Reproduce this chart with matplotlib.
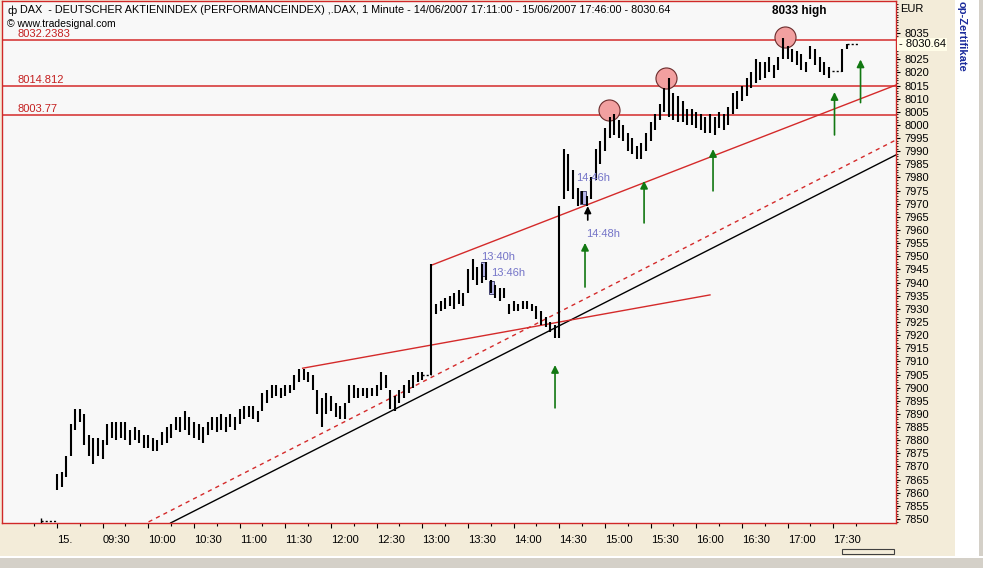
import matplotlib.pyplot as plt
from matplotlib.patches import Rectangle

plt.rcParams['font.family'] = ['Liberation Sans', 'DejaVu Sans']

W, H = 983, 568
nan = float('nan')

# DAX 1 minute chart, 15/06/2007 - bars every 3 minutes, x = minutes after 09:00
bar_low = [7861, 7862, 7866, 7874, 7884, 7887, 7878, 7874, 7871, 7874,
           7873, 7878, 7881, 7880, 7881, 7880, 7878, 7880, 7879, 7877,
           7877, 7876, 7876, 7878, 7879, 7881, 7884, 7883, 7884, 7882,
           7881, 7880, 7879, 7882, 7884, 7883, 7884, 7883, 7885, 7884,
           7886, 7888, 7889, 7888, 7887, 7891, 7894, 7896, 7897, 7896,
           7897, 7898, 7899, 7902, 7903, 7902, 7899, 7890, 7885, 7890,
           7891, 7889, 7888, 7888, 7894, 7896, 7896, 7897, 7896, 7897,
           7897, 7899, 7900, 7892, 7891, 7894, 7896, 7898, 7900, 7902,
           7903, nan, 7905, 7928, 7929, 7930, 7931, 7930, 7932, 7931,
           7936, 7941, 7939, 7940, 7941, 7936, 7934, 7933, 7934, 7928,
           7929, 7929, 7930, 7930, 7929, 7926, 7924, 7923, 7921, 7919,
           7919, 7972, 7975, 7972, 7969, 7970, 7969, 7972, 7979, 7985,
           7990, 7995, 7996, 7995, 7994, 7990, 7989, 7987, 7987, 7990,
           7994, 7998, 8002, 8005, 8003, 8002, 8001, 8001, 8000, 8000,
           7999, 7998, 7997, 7997, 7996, 7999, 7998, 8000, 8004, 8006,
           8009, 8011, 8014, 8016, 8017, 8018, 8020, 8018, 8021, 8025,
           8025, 8024, 8023, 8021, 8020, 8025, 8023, 8020, 8019, 8018,
           nan, nan, 8020, 8029, nan, nan]
bar_high = [7867, 7868, 7874, 7886, 7892, 7892, 7890, 7882, 7881, 7881,
            7880, 7886, 7887, 7887, 7887, 7887, 7884, 7885, 7884, 7882,
            7882, 7881, 7880, 7883, 7885, 7886, 7889, 7889, 7891, 7889,
            7887, 7886, 7885, 7887, 7889, 7889, 7890, 7889, 7890, 7889,
            7892, 7893, 7893, 7893, 7891, 7898, 7899, 7901, 7901, 7900,
            7901, 7901, 7905, 7907, 7907, 7906, 7905, 7899, 7896, 7898,
            7897, 7894, 7893, 7894, 7901, 7901, 7900, 7900, 7900, 7900,
            7901, 7906, 7905, 7899, 7897, 7899, 7901, 7903, 7905, 7906,
            7906, nan, 7947, 7932, 7933, 7934, 7935, 7936, 7937, 7936,
            7945, 7949, 7946, 7947, 7948, 7941, 7939, 7938, 7938, 7932,
            7933, 7932, 7933, 7933, 7932, 7931, 7929, 7927, 7925, 7924,
            7969, 7991, 7989, 7983, 7976, 7975, 7973, 7980, 7991, 7994,
            7999, 8003, 8004, 8002, 8000, 7997, 7995, 7992, 7993, 7997,
            8001, 8004, 8008, 8014, 8018, 8012, 8011, 8009, 8006, 8006,
            8005, 8004, 8003, 8004, 8003, 8005, 8004, 8007, 8012, 8013,
            8015, 8018, 8020, 8025, 8024, 8024, 8026, 8023, 8026, 8033,
            8030, 8029, 8028, 8027, 8024, 8030, 8029, 8026, 8024, 8022,
            nan, nan, 8029, 8031, nan, nan]
bar_minute = [3 * i for i in range(len(bar_low))]

# flat (no trade) stretches drawn dotted
flat_start = [-10.5, 240, 509, 519]
flat_end = [-0.5, 246, 515, 526]
flat_price = [7849.4, 7905, 8020.6, 8030.64]

levels = [8032.2383, 8014.812, 8003.77]
level_labels = ['8032.2383', '8014.812', '8003.77']

# trend lines (minute, price) end points
support_x, support_y = [74.7, 551.2], [7848.5, 7988.6]
dashed_x, dashed_y = [60.2, 551.2], [7848.9, 7994.3]
channel_x, channel_y = [246.4, 551.2], [7946.7, 8015.2]
fan_x, fan_y = [161.4, 429.0], [7907.4, 7935.3]

# marked highs
circle_x = [362.7, 400.1, 478.3]
circle_y = [8005.7, 8017.9, 8033.4]

# green signal arrows
arrow_x = [327.2, 346.9, 385.7, 431.0, 510.8, 527.9]
arrow_tip = [7908.6, 7955.1, 7978.7, 7990.8, 8012.5, 8024.9]
arrow_tail = [7892.3, 7938.3, 7962.7, 7974.9, 7996.2, 8008.5]

notes = ['14:46h', '14:48h', '13:40h', '13:46h']
note_x = [341.3, 347.6, 278.6, 285.2]
note_y = [7979.8, 7958.5, 7949.7, 7943.6]
box_x0 = [278.6, 283.9, 343.6]
box_x1 = [281.9, 287.2, 347.6]
box_y0 = [7942.5, 7935.7, 7970.0]
box_y1 = [7947.9, 7940.6, 7975.0]

time_ticks = list(range(0, 511, 30))
time_labels = ['15.', '09:30', '10:00', '10:30', '11:00', '11:30', '12:00', '12:30', '13:00',
               '13:30', '14:00', '14:30', '15:00', '15:30', '16:00', '16:30', '17:00', '17:30']
price_ticks = list(range(7850, 8030, 5)) + [8035]

fig = plt.figure(figsize=(W / 100, H / 100), dpi=100, facecolor='#f3ecd9')


def px_rect(x0, y0, x1, y1, **kw):
    fig.patches.append(Rectangle((x0 / W, 1 - y1 / H), (x1 - x0) / W, (y1 - y0) / H,
                                 transform=fig.transFigure, **kw))


px_rect(955, 0, 983, 558, facecolor='white', edgecolor='none')
px_rect(979, 0, 983, 568, facecolor='#d4d0c8', edgecolor='none')
px_rect(0, 556, 983, 568, facecolor='#d4d0c8', edgecolor='none')
px_rect(0, 556, 983, 558, facecolor='white', edgecolor='none')
px_rect(842, 549, 894, 554, facecolor='none', edgecolor='#404040', lw=0.8)

ax = fig.add_axes([2 / W, 45 / H, 894 / W, 522 / H])
ax.set_facecolor('#f8f8f8')
ax.set_xlim(-36.1, 551.2)
ax.set_ylim(7848.48, 8047.18)
for s in ax.spines.values():
    s.set_color('#d02828')
    s.set_linewidth(1)

red = '#d42a2a'
for lv, lb in zip(levels, level_labels):
    ax.axhline(lv, color=red, lw=1.1, zorder=2)
    ax.annotate(lb, (-25.6, lv), xytext=(0, 1), textcoords='offset points',
                color='#c42020', fontsize=8, va='bottom', ha='left')

ax.plot(support_x, support_y, color='black', lw=1)
ax.plot(dashed_x, dashed_y, color=red, lw=1, ls=(0, (3, 3)))
ax.plot(channel_x, channel_y, color=red, lw=1)
ax.plot(fan_x, fan_y, color=red, lw=1)

ax.scatter(circle_x, circle_y, s=230, facecolor='#f2a0a0', edgecolor='#6a2a2a',
           linewidths=0.8, zorder=3)

for x0, x1, y0, y1 in zip(box_x0, box_x1, box_y0, box_y1):
    ax.add_patch(Rectangle((x0, y0), x1 - x0, y1 - y0, facecolor='#b8b8ec',
                           edgecolor='#303060', lw=0.6, zorder=3))

ax.vlines(bar_minute, bar_low, bar_high, color='black', lw=1.5, zorder=4)
for a, b, p in zip(flat_start, flat_end, flat_price):
    ax.plot([a, b], [p, p], color='black', lw=1, ls=(0, (1.5, 1.5)), zorder=4)
ax.vlines([flat_start[0]], [7848.5], [7850.3], color='black', lw=1, zorder=4)

for x, t0, t1 in zip(arrow_x, arrow_tip, arrow_tail):
    ax.annotate('', xy=(x, t0), xytext=(x, t1),
                arrowprops=dict(arrowstyle='-|>', color='#127812', lw=1.2,
                                mutation_scale=11, shrinkA=0, shrinkB=0))
ax.annotate('', xy=(348.7, 7969.1), xytext=(348.7, 7963.8),
            arrowprops=dict(arrowstyle='-|>', color='black', lw=1.2,
                            mutation_scale=10, shrinkA=0, shrinkB=0))

for t, x, y in zip(notes, note_x, note_y):
    ax.text(x, y, t, color='#7474c8', fontsize=8, ha='left', va='center', zorder=5)

ax.text(487.5, 8043.3, '8033 high', fontsize=8.5, fontweight='bold', ha='center', va='center')

ax.text(-32.5, 8043.6, '\u0444', fontsize=8, ha='left', va='center')
ax.text(-24.5, 8043.6, 'DAX  - DEUTSCHER AKTIENINDEX (PERFORMANCEINDEX) ,.DAX, 1 Minute - '
        '14/06/2007 17:11:00 - 15/06/2007 17:46:00 - 8030.64',
        fontsize=7.8, ha='left', va='center')
ax.text(-32.5, 8038.6, '\u00a9 www.tradesignal.com', fontsize=7.5, ha='left', va='center')

# axes: time at bottom, price on the right
ax.set_xticks(time_ticks)
ax.set_xticklabels(time_labels, fontsize=8)
for t in ax.get_xticklabels():
    t.set_ha('left')
ax.set_xticks(list(range(-15, 540, 30)), minor=True)
ax.tick_params(axis='x', which='major', length=3.5, width=0.8, pad=5, direction='out')
ax.tick_params(axis='x', which='minor', length=2, width=0.8, direction='out')

ax.yaxis.tick_right()
ax.set_yticks(price_ticks)
ax.set_yticklabels([str(p) for p in price_ticks], fontsize=8)
ax.set_yticks(list(range(7849, 8047)), minor=True)
ax.tick_params(axis='y', which='major', length=3, width=0.8, pad=3, direction='out')
ax.tick_params(axis='y', which='minor', length=1.2, width=0.6, direction='out')

ax.annotate('- 8030.64', xy=(1.0, 8030.64), xycoords=('axes fraction', 'data'),
            xytext=(2, 0), textcoords='offset points', fontsize=8, ha='left', va='center',
            bbox=dict(boxstyle='square,pad=0.15', facecolor='#fffde8', edgecolor='none'))

fig.text(900 / W, 1 - 9.5 / H, 'EUR', fontsize=8, ha='left', va='center')
fig.text(962 / W, 1 - 1 / H, 'op-Zertifikate', fontsize=8, fontweight='bold', color='#1c2c9c',
         rotation=270, ha='center', va='top')

fig.savefig('out.png', dpi=100, facecolor=fig.get_facecolor())
